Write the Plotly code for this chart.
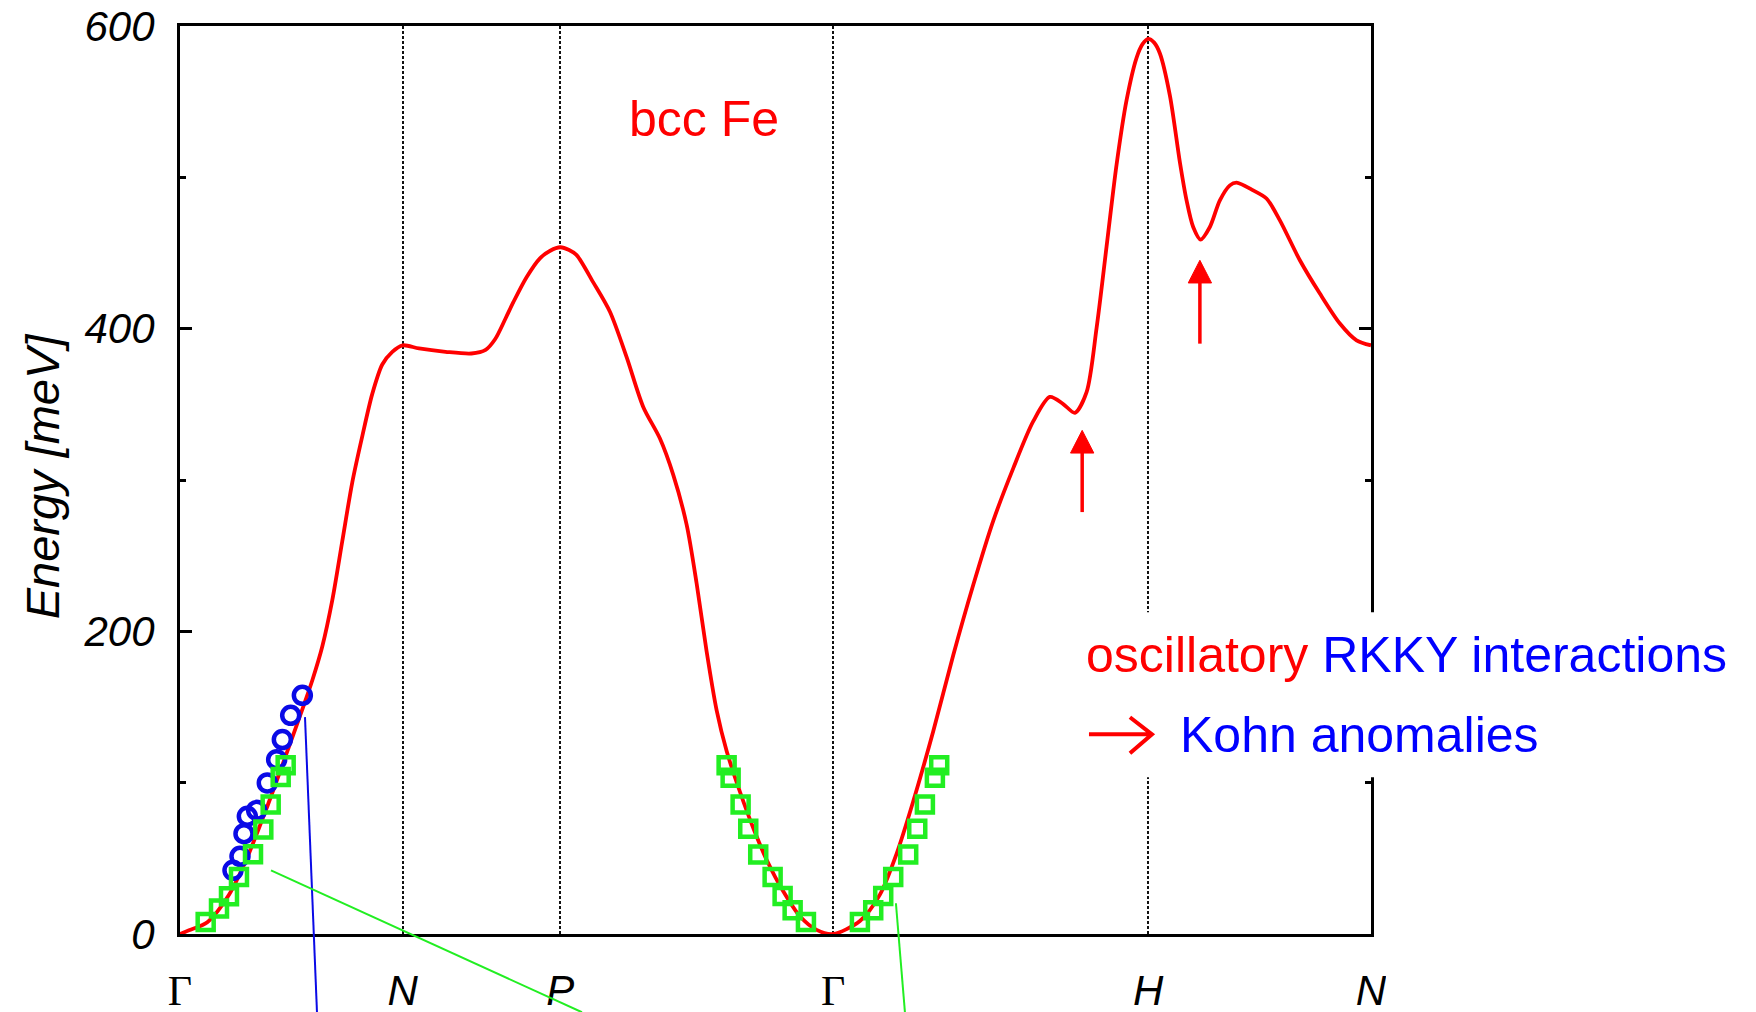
import plotly.graph_objects as go

# ---- high-symmetry path of the bcc Brillouin zone (segment lengths in 2π/a) ----
seg_lengths = [0.7071, 0.5000, 0.8660, 1.0000, 0.7071]
point_labels = ["Γ", "N", "P", "Γ", "H", "N"]

# ---- calculated magnon dispersion of bcc Fe (q in 2π/a, E in meV) ----
q_calc = [0.0, 0.0286, 0.0867, 0.1555, 0.2085, 0.272, 0.3354, 0.388, 0.42, 0.4516,
          0.4834, 0.515, 0.5468, 0.5786, 0.6103, 0.642, 0.6738, 0.7071, 0.7585, 0.843,
          0.925, 0.97, 1.0, 1.0336, 1.058, 1.1, 1.1425, 1.175, 1.2071, 1.235, 1.259, 1.3117, 1.3646,
          1.4176, 1.4703, 1.5233, 1.5656, 1.608, 1.6398, 1.6715, 1.7033, 1.735, 1.7772,
          1.8195, 1.8618, 1.9147, 1.9676, 2.0206, 2.0731, 2.158, 2.2215, 2.2744, 2.3273,
          2.3908, 2.4542, 2.5177, 2.5812, 2.6446, 2.708, 2.761, 2.8033, 2.8404, 2.8775,
          2.9092, 2.941, 2.9727, 3.0044, 3.0361, 3.055, 3.0731, 3.092, 3.1102, 3.1419, 3.1736, 3.1948,
          3.2158, 3.2393, 3.2688, 3.3005, 3.3323, 3.3535, 3.4062, 3.4485, 3.491, 3.5544,
          3.6179, 3.6814, 3.7343, 3.7802]
e_calc = [0.0, 2.4, 7.8, 25.9, 48.2, 81.5, 117.7, 148.3, 167.7, 190.0,
          220.6, 259.5, 298.5, 329.0, 356.9, 376.3, 384.7, 389.0, 386.9, 384.7,
          383.6, 386.0, 393.0, 406.9, 417.5, 434.0, 446.5, 451.5, 453.8, 452.0, 448.6, 430.6, 411.2,
          381.2, 348.3, 327.4, 303.4, 270.5, 231.6, 186.7, 147.8, 120.9, 94.0,
          70.0, 49.1, 28.2, 11.7, 2.7, 0.0, 8.6, 26.0, 53.0, 87.7,
          134.0, 184.2, 230.6, 273.0, 307.7, 338.7, 354.9, 350.2, 344.4, 358.0,
          400.4, 454.4, 508.5, 551.0, 579.0, 588.0, 591.5, 589.0, 581.8, 554.0, 510.0, 484.8,
          467.2, 458.9, 467.2, 484.8, 494.7, 496.5, 491.4, 486.0, 471.6, 445.2,
          423.2, 403.4, 392.3, 389.0]

# ---- neutron scattering data ----
q_circles = [0.3883, 0.3513, 0.3248, 0.3068, 0.2771, 0.2433, 0.2137, 0.2031, 0.1904, 0.1682]
e_circles = [157.7, 144.5, 128.5, 115.2, 99.8, 81.7, 77.8, 66.3, 51.3, 42.1]

q_squares = [0.0815, 0.1238, 0.1555, 0.1872, 0.2317, 0.2644, 0.2878, 0.3196, 0.3354,
             1.735, 1.7477, 1.7794, 1.8036, 1.8353, 1.881, 1.9127, 1.9445, 1.9867,
             2.158, 2.2003, 2.232, 2.2637, 2.3113, 2.34, 2.3643, 2.396, 2.4097]
e_squares = [7.9, 16.8, 24.9, 37.7, 52.7, 69.0, 85.5, 103.7, 111.5,
             111.5, 103.3, 85.5, 69.6, 52.5, 37.7, 25.1, 15.7, 7.9,
             7.9, 15.7, 25.1, 37.7, 52.5, 69.6, 85.5, 103.3, 111.5]

# ---- Kohn anomaly markers (q, arrow tip energy, arrow tail energy) ----
kohn_q = [2.8635, 3.2371]
kohn_tip = [332.8, 445.2]
kohn_tail = [278.8, 390.1]

# ---- leader lines running to the panels below (q, E at both ends) ----
leaders = [
    dict(q0=0.3967, e0=143.3, q1=0.4348, e1=-51.7, color="#0a0ae6"),
    dict(q0=0.2888, e0=42.1, q1=1.2758, e1=-51.7, color="#22ee22"),
    dict(q0=2.2723, e0=20.3, q1=2.3009, e1=-51.7, color="#22ee22"),
]

E_MAX = 600
point_pos = [0.0]
for s in seg_lengths:
    point_pos.append(point_pos[-1] + s)
Q_MAX = point_pos[-1]

RED = "#ff0000"
BLUE = "#0000ff"
FONT = "Liberation Sans, Arial, sans-serif"

tick_text = []
for lab in point_labels:
    if lab == "Γ":
        tick_text.append("<span style='font-family:Liberation Serif'>Γ</span>")
    else:
        tick_text.append("<i>%s</i>" % lab)

fig = go.Figure()

fig.add_trace(go.Scatter(
    x=q_calc, y=e_calc, mode="lines",
    line=dict(color=RED, width=3.8, shape="spline", smoothing=0.8),
    showlegend=False, hoverinfo="skip"))

fig.add_trace(go.Scatter(
    x=q_circles, y=e_circles, mode="markers",
    marker=dict(symbol="circle-open", size=17, color="#0a0ae6", line=dict(width=4.5, color="#0a0ae6")),
    showlegend=False, cliponaxis=False))

fig.add_trace(go.Scatter(
    x=q_squares, y=e_squares, mode="markers",
    marker=dict(symbol="square-open", size=16, color="#22ee22", line=dict(width=4.5, color="#22ee22")),
    showlegend=False, cliponaxis=False))

shapes = []

# Kohn anomaly arrows (shaft + filled head)
head_h = 15.0          # meV
head_w = 0.037         # 2π/a (half width)
for q, tip, tail in zip(kohn_q, kohn_tip, kohn_tail):
    shapes.append(dict(type="line", xref="x", yref="y", x0=q, x1=q, y0=tail, y1=tip - head_h + 1,
                       line=dict(color=RED, width=3.5), layer="above"))
    shapes.append(dict(type="path", xref="x", yref="y",
                       path="M %f,%f L %f,%f L %f,%f Z" % (q - head_w, tip - head_h, q, tip, q + head_w, tip - head_h),
                       fillcolor=RED, line=dict(color=RED, width=1), layer="above"))

# leader lines (paper coordinates so they can leave the frame)
for ld in leaders:
    shapes.append(dict(type="line", xref="paper", yref="paper",
                       x0=ld["q0"] / Q_MAX, y0=ld["e0"] / E_MAX,
                       x1=ld["q1"] / Q_MAX, y1=ld["e1"] / E_MAX,
                       line=dict(color=ld["color"], width=2), layer="above"))

# white backing behind the right-hand text block
shapes.append(dict(type="rect", xref="paper", yref="paper", x0=0.7515, x1=1.33, y0=0.1726, y1=0.3543,
                   fillcolor="white", line=dict(width=0), layer="above"))
# white margin strip on the right edge below the frame
shapes.append(dict(type="rect", xref="paper", yref="paper", x0=1.0126, x1=1.33, y0=-0.0862, y1=-0.0124,
                   fillcolor="white", line=dict(width=0), layer="above"))
# open arrow in front of "Kohn anomalies"
shapes.append(dict(type="path", xref="paper", yref="paper",
                   path="M 0.7632,0.2199 L 0.8161,0.2199 M 0.7976,0.2387 L 0.8161,0.2199 L 0.7976,0.1990",
                   line=dict(color=RED, width=4), layer="above"))

annotations = [
    dict(text="bcc Fe", xref="paper", yref="paper", x=0.3757, y=0.8978,
         xanchor="left", yanchor="middle", showarrow=False,
         font=dict(family=FONT, size=50, color=RED)),
    dict(text="<span style='color:%s'>oscillatory</span> <span style='color:%s'>RKKY interactions</span>" % (RED, BLUE),
         xref="paper", yref="paper", x=0.7587, y=0.3069,
         xanchor="left", yanchor="middle", showarrow=False,
         font=dict(family=FONT, size=50, color=BLUE)),
    dict(text="Kohn anomalies", xref="paper", yref="paper", x=0.8383, y=0.2194,
         xanchor="left", yanchor="middle", showarrow=False,
         font=dict(family=FONT, size=50, color=BLUE)),
    dict(text="Energy [meV]", xref="paper", yref="paper", x=-0.1159, y=0.504,
         xanchor="center", yanchor="middle", showarrow=False, textangle=-90,
         font=dict(family=FONT, size=47, color="black", style="italic")),
]

fig.update_layout(
    width=1756, height=1012,
    margin=dict(l=180, r=385, t=26, b=78, pad=0, autoexpand=False),
    paper_bgcolor="white", plot_bgcolor="white",
    shapes=shapes, annotations=annotations,
    font=dict(family=FONT, color="black"),
    xaxis=dict(
        range=[0, Q_MAX], tickmode="array", tickvals=point_pos, ticktext=tick_text,
        ticks="", showgrid=True, gridcolor="#111111", gridwidth=1.7, griddash="3px,2px",
        showline=True, linecolor="black", linewidth=3, mirror=True, zeroline=False,
        tickfont=dict(family=FONT, size=42, color="black"), ticklabelstandoff=18,
        automargin=False,
    ),
    yaxis=dict(
        range=[0, E_MAX], tickmode="linear", tick0=0, dtick=200,
        ticks="inside", ticklen=12, tickwidth=2.5, tickcolor="black",
        minor=dict(dtick=100, ticks="inside", ticklen=6, tickwidth=2.5, tickcolor="black", showgrid=False),
        showgrid=False, zeroline=False,
        showline=True, linecolor="black", linewidth=3, mirror="ticks",
        tickfont=dict(family=FONT, size=42, color="black", style="italic"), ticklabelstandoff=14,
        automargin=False,
    ),
)

fig.write_html("out.html")
